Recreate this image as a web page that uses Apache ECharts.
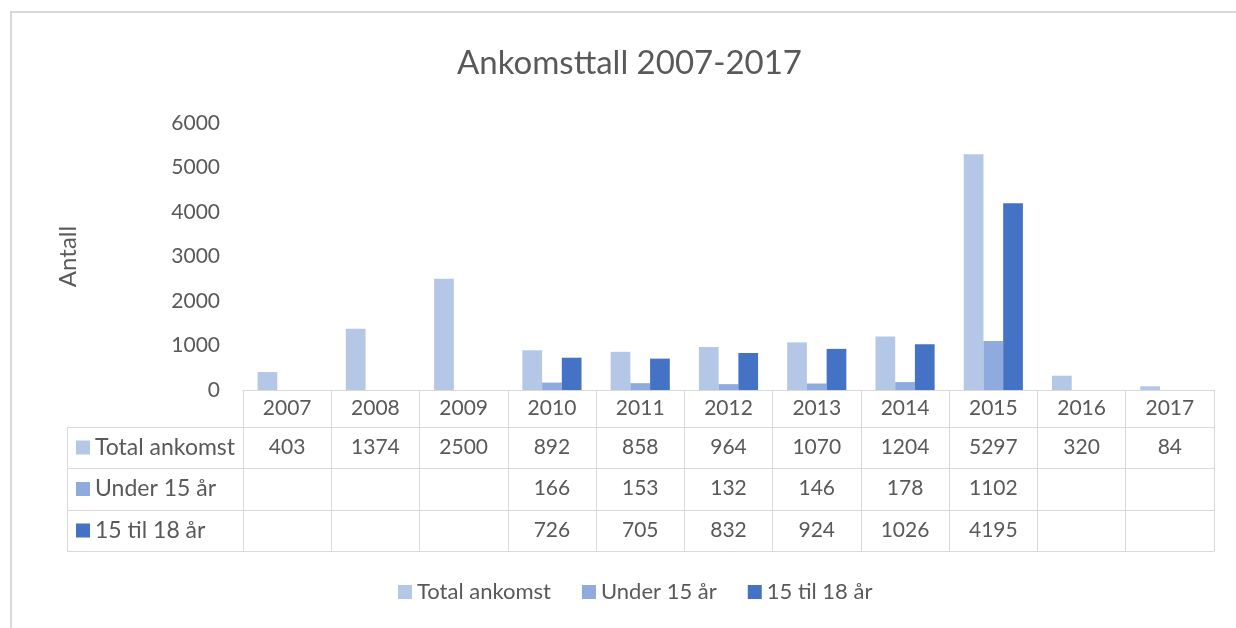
<!DOCTYPE html>
<html>
<head>
<meta charset="utf-8">
<script src="https://cdn.jsdelivr.net/npm/echarts@6/dist/echarts.min.js"></script>
<style>html,body{margin:0;padding:0;background:#fff;}#c{width:1236px;height:628px;}</style>
</head>
<body>
<div id="c"></div>
<script>
const years = ['2007','2008','2009','2010','2011','2012','2013','2014','2015','2016','2017'];
const seriesNames = ['Total ankomst','Under 15 år','15 til 18 år'];
const total = [403,1374,2500,892,858,964,1070,1204,5297,320,84];
const under15 = [null,null,null,166,153,132,146,178,1102,null,null];
const age15to18 = [null,null,null,726,705,832,924,1026,4195,null,null];
const colors = ['#B4C7E7','#8FAADC','#4472C4'];
const yTicks = [0,1000,2000,3000,4000,5000,6000];

const FONT = 'Lato';
const TXT = '#595959';
const LINE = '#D9D9D9';
const NUM = 21, WORD = 23, LEG = 22;
const gridLeft = 243, gridRight = 22, gridTop = 123, axisY = 390;
const rowOffsets = [37, 78, 120, 161];
const rows = [total, under15, age15to18];
const chartW = 1236, chartH = 628;
const headerLeft = 67;

const chart = echarts.init(document.getElementById('c'));

const xAxes = [{
  type: 'category', data: years, gridIndex: 0, position: 'bottom', offset: 0,
  axisLine: {show: true, lineStyle: {color: LINE, width: 1}},
  axisTick: {show: true, length: rowOffsets[3], lineStyle: {color: LINE, width: 1}},
  axisLabel: {color: TXT, fontSize: NUM, fontFamily: FONT, margin: 8, interval: 0}
}];
rows.forEach((r, k) => {
  xAxes.push({
    type: 'category', data: years, gridIndex: 0, position: 'bottom', offset: rowOffsets[k],
    axisLine: {show: true, lineStyle: {color: LINE, width: 1}},
    axisTick: {show: false},
    axisLabel: {color: TXT, fontSize: NUM, fontFamily: FONT, margin: 10, interval: 0,
      formatter: (v, i) => (r[i] == null ? '' : String(r[i]))}
  });
});
xAxes.push({
  type: 'category', data: years, gridIndex: 0, position: 'bottom', offset: rowOffsets[3],
  axisLine: {show: true, lineStyle: {color: LINE, width: 1}},
  axisTick: {show: false}, axisLabel: {show: false}
});

const graphics = [];
graphics.push({type: 'rect', shape: {x: 11, y: 12, width: chartW + 20, height: chartH + 20},
  style: {fill: 'none', stroke: LINE, lineWidth: 2}, silent: true});
rowOffsets.forEach(o => {
  graphics.push({type: 'line', shape: {x1: headerLeft, y1: axisY + o + 0.5, x2: gridLeft, y2: axisY + o + 0.5},
    style: {stroke: LINE, lineWidth: 1}, silent: true});
});
graphics.push({type: 'line', shape: {x1: headerLeft + 0.5, y1: axisY + rowOffsets[0], x2: headerLeft + 0.5, y2: axisY + rowOffsets[3]},
  style: {stroke: LINE, lineWidth: 1}, silent: true});
seriesNames.forEach((n, k) => {
  const yc = axisY + (rowOffsets[k] + rowOffsets[k + 1]) / 2;
  graphics.push({type: 'rect', shape: {x: 76, y: yc - 7, width: 14, height: 14}, style: {fill: colors[k]}, silent: true});
  graphics.push({type: 'text', x: 95, y: yc, style: {text: n, fill: TXT, font: WORD + 'px ' + FONT, textVerticalAlign: 'middle', verticalAlign: 'middle'}, silent: true});
});

const option = {
  backgroundColor: '#fff',
  animation: false,
  title: {text: 'Ankomsttall 2007-2017', left: 452, top: 42,
    textStyle: {color: TXT, fontSize: 33, fontWeight: 'normal', fontFamily: FONT}},
  legend: {data: seriesNames, left: 393, top: 576, icon: 'rect', itemWidth: 14, itemHeight: 14, itemGap: 31,
    textStyle: {color: TXT, fontSize: LEG, fontFamily: FONT}},
  grid: {left: gridLeft, right: gridRight, top: gridTop, bottom: chartH - axisY, containLabel: false},
  xAxis: xAxes,
  yAxis: {type: 'value', min: yTicks[0], max: yTicks[yTicks.length - 1], interval: 1000,
    name: 'Antall', nameLocation: 'middle', nameGap: 163, nameRotate: 90,
    nameTextStyle: {color: TXT, fontSize: 24, fontFamily: FONT},
    axisLine: {show: false}, axisTick: {show: false}, splitLine: {show: false},
    axisLabel: {color: TXT, fontSize: NUM, fontFamily: FONT, margin: 23, formatter: v => String(v)}},
  series: [
    {name: seriesNames[0], type: 'bar', data: total, itemStyle: {color: colors[0]}, barGap: '0%', barCategoryGap: '33%'},
    {name: seriesNames[1], type: 'bar', data: under15, itemStyle: {color: colors[1]}, barGap: '0%', barCategoryGap: '33%'},
    {name: seriesNames[2], type: 'bar', data: age15to18, itemStyle: {color: colors[2]}, barGap: '0%', barCategoryGap: '33%'}
  ],
  graphic: graphics
};
chart.setOption(option);
</script>
</body>
</html>
